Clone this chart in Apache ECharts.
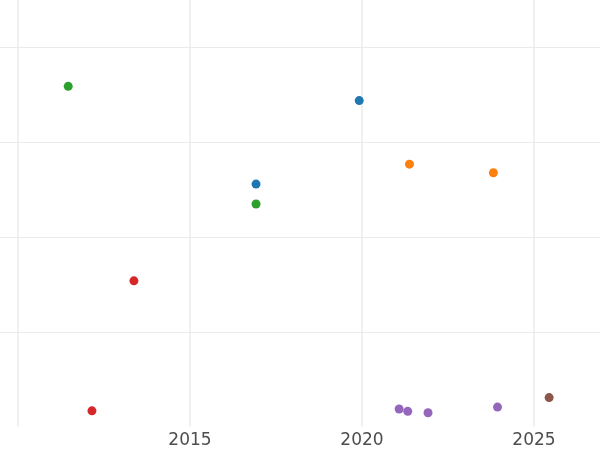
<!DOCTYPE html>
<html>
<head>
<meta charset="utf-8">
<script src="https://cdn.jsdelivr.net/npm/echarts@6/dist/echarts.min.js"></script>
<style>
  html, body { margin: 0; padding: 0; background: #fff; }
  #chart { width: 600px; height: 450px; }
</style>
</head>
<body>
<div id="chart"></div>
<script>
// x = decimal year, y = value
const blueYears = [2016.92, 2019.92]
const blueValues = [2.56, 3.44]
const orangeYears = [2021.38, 2023.82]
const orangeValues = [2.77, 2.68]
const greenYears = [2011.46, 2016.92]
const greenValues = [3.59, 2.35]
const redYears = [2013.37, 2012.15]
const redValues = [1.54, 0.17]
const purpleYears = [2021.08, 2021.33, 2021.92, 2023.94]
const purpleValues = [0.19, 0.165, 0.15, 0.21]
const brownYears = [2025.44]
const brownValues = [0.31]

const gridYears = [2010, 2015, 2020, 2025]
const labelYears = [2015, 2020, 2025]

const colors = ['#1f77b4', '#ff7f0e', '#2ca02c', '#d62728', '#9467bd', '#8c564b']
const groups = [
  [blueYears, blueValues],
  [orangeYears, orangeValues],
  [greenYears, greenValues],
  [redYears, redValues],
  [purpleYears, purpleValues],
  [brownYears, brownValues],
]

const chart = echarts.init(document.getElementById('chart'))
chart.setOption({
  animation: false,
  grid: { left: 0, right: 0, top: 0, bottom: 23 },
  xAxis: {
    type: 'value',
    min: 2009.477,
    max: 2026.919,
    axisLine: { show: false },
    axisTick: { show: false, customValues: gridYears },
    axisLabel: {
      customValues: labelYears,
      formatter: v => String(v),
      color: '#4d4d4d',
      fontSize: 17,
      fontFamily: 'DejaVu Sans',
      margin: 5,
    },
    splitLine: {
      show: true,
      lineStyle: { color: '#ebebeb', width: 1.5 },
    },
  },
  yAxis: {
    type: 'value',
    min: 0,
    max: 4.5,
    interval: 1,
    axisLine: { show: false },
    axisTick: { show: false },
    axisLabel: { show: false },
    splitLine: {
      show: true,
      showMinLine: false,
      showMaxLine: false,
      lineStyle: { color: '#ebebeb', width: 1.2 },
    },
  },
  series: groups.map((g, i) => ({
    type: 'scatter',
    symbolSize: 9,
    itemStyle: { color: colors[i], opacity: 1 },
    data: g[0].map((x, j) => [x, g[1][j]]),
  })),
})
</script>
</body>
</html>
